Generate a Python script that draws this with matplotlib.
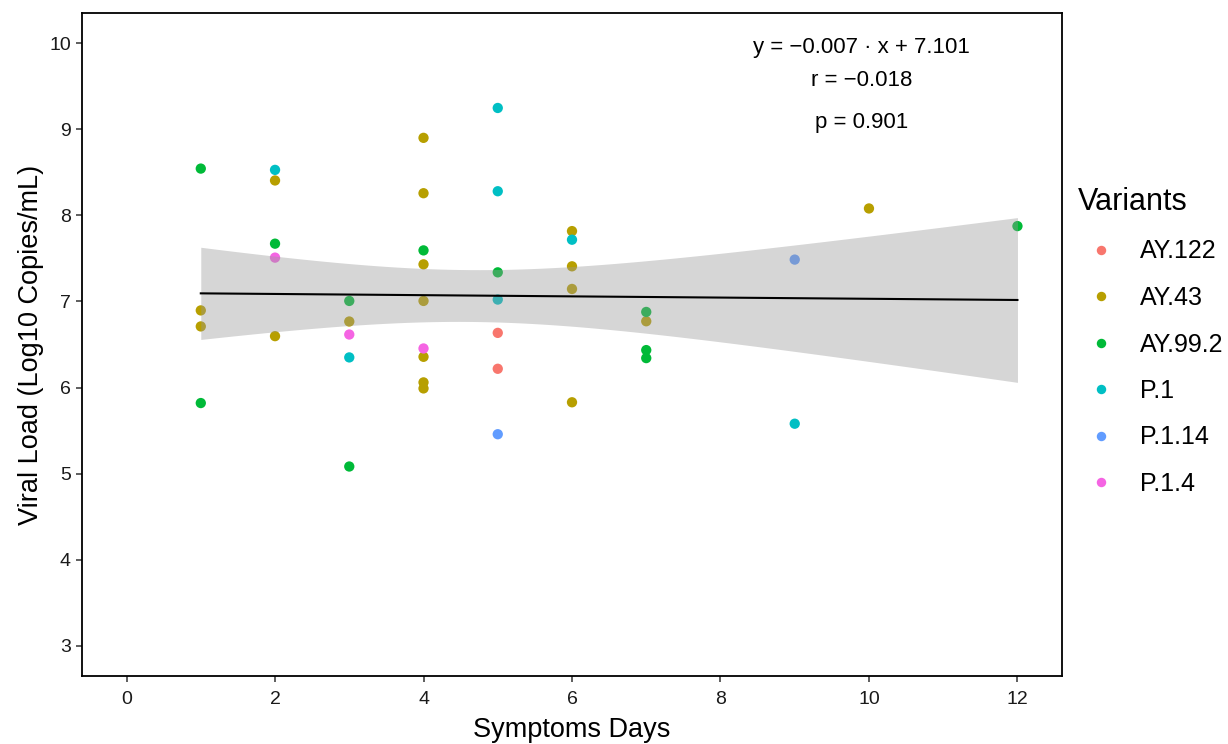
import numpy as np
import matplotlib
matplotlib.use('Agg')
import matplotlib.pyplot as plt
from matplotlib.lines import Line2D

plt.rcParams['font.family'] = ['Liberation Sans', 'DejaVu Sans']

# dados: (dias de sintomas, carga viral) por variante
variantes = ['AY.122', 'AY.43', 'AY.99.2', 'P.1', 'P.1.14', 'P.1.4']
cores = ['#F8766D', '#B79F00', '#00BA38', '#00BFC4', '#619CFF', '#F564E3']

dias_ay122 = [5, 5]
carga_ay122 = [6.635, 6.218]

dias_ay43 = [1, 1, 2, 2, 3, 4, 4, 4, 4, 4, 4, 4, 6, 6, 6, 6, 7, 10]
carga_ay43 = [6.896, 6.71, 8.405, 6.597, 6.767, 8.90, 8.257, 7.431, 7.006,
              6.357, 6.06, 5.99, 7.817, 7.408, 7.145, 5.829, 6.77, 8.08]

dias_ay992 = [1, 1, 2, 3, 3, 4, 5, 7, 7, 7, 12]
carga_ay992 = [8.543, 5.82, 7.671, 7.006, 5.083, 7.593, 7.338, 6.878, 6.435,
               6.342, 7.875]

dias_p1 = [2, 3, 5, 5, 5, 6, 9]
carga_p1 = [8.528, 6.35, 9.247, 8.28, 7.022, 7.717, 5.58]

dias_p114 = [5, 9]
carga_p114 = [5.458, 7.486]

dias_p14 = [2, 3, 4]
carga_p14 = [7.509, 6.616, 6.454]

dias = [dias_ay122, dias_ay43, dias_ay992, dias_p1, dias_p114, dias_p14]
cargas = [carga_ay122, carga_ay43, carga_ay992, carga_p1, carga_p114, carga_p14]

# coeficientes informados no grafico
inclinacao = -0.007
intercepto = 7.101
r_valor = -0.018
p_valor = 0.901

fig = plt.figure(figsize=(12.28, 7.44), dpi=100)
ax = fig.add_axes([82 / 1228, 1 - 676 / 744, 980 / 1228, 663 / 744])

for d, c, cor in zip(dias, cargas, cores):
    ax.scatter(d, c, s=55, color=cor, edgecolors='none', zorder=2)

# reta ajustada e faixa de confianca de 95%
x = np.concatenate([np.array(d, dtype=float) for d in dias])
y = np.concatenate([np.array(c, dtype=float) for c in cargas])
n = len(x)
res = y - (intercepto + inclinacao * x)
s = np.sqrt(np.sum(res ** 2) / (n - 2))
sxx = np.sum((x - x.mean()) ** 2)
t975 = 2.0195  # t(0.975, gl=41)
xs = np.linspace(x.min(), x.max(), 80)
ys = intercepto + inclinacao * xs
se = s * np.sqrt(1 / n + (xs - x.mean()) ** 2 / sxx)
ax.fill_between(xs, ys - t975 * se, ys + t975 * se, color='#999999', alpha=0.4,
                linewidth=0, zorder=3)
ax.plot(xs, ys, color='black', linewidth=1.5, zorder=4)

# equacao no canto
texto_eq = [f'y = \u2212{abs(inclinacao):.3f} \u00b7 x + {intercepto:.3f}',
            f'r = \u2212{abs(r_valor):.3f}',
            f'p = {p_valor:.3f}']
for txt, yy in zip(texto_eq, [9.95, 9.57, 9.08]):
    ax.text(9.9, yy, txt, ha='center', va='center', fontsize=16, color='black')

ax.set_xlim(-0.6, 12.6)
ax.set_ylim(2.65, 10.35)
ax.set_xticks([0, 2, 4, 6, 8, 10, 12])
ax.set_yticks([3, 4, 5, 6, 7, 8, 9, 10])

for sp in ax.spines.values():
    sp.set_linewidth(1.3)
    sp.set_color('black')
ax.tick_params(axis='both', length=4, width=1.1, color='#333333',
               labelsize=14, labelcolor='#1a1a1a')
ax.tick_params(axis='x', pad=7)
ax.tick_params(axis='y', pad=4)

ax.set_xlabel('Symptoms Days', fontsize=19.5, labelpad=6)
ax.set_ylabel('Viral Load (Log10 Copies/mL)', fontsize=19.5, labelpad=4)

# legenda
handles = [Line2D([], [], linestyle='none', marker='o', markersize=6.8,
                  markerfacecolor=cor, markeredgecolor='none') for cor in cores]
leg = fig.legend(handles, variantes, title='Variants', loc='upper left',
                 bbox_to_anchor=(1068 / 1228, 1 - 177 / 744), frameon=False,
                 fontsize=18, title_fontsize=22, labelspacing=0.9,
                 handlelength=1.84, handletextpad=0.64, borderaxespad=0)
leg._legend_box.align = 'left'

fig.savefig('out.png', dpi=100)
